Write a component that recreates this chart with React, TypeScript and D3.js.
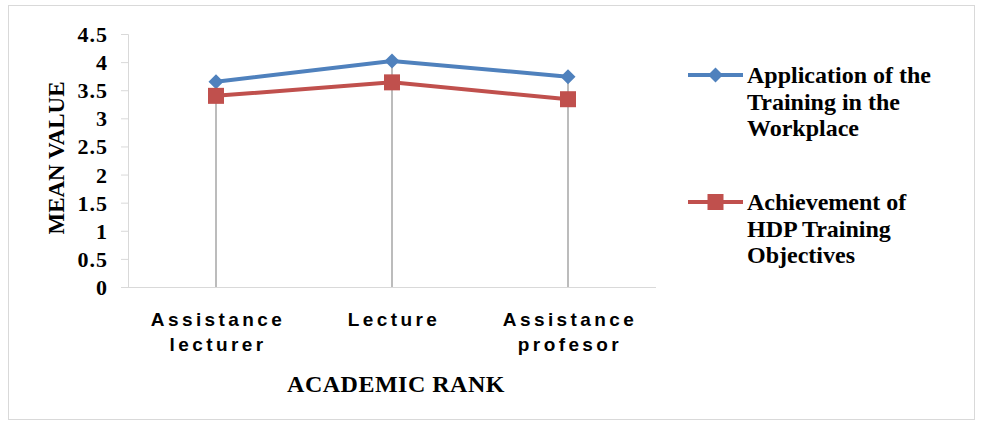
import React, { useRef, useEffect } from 'react';
import * as d3 from 'd3';

const ranks = ['Assistance lecturer', 'Lecture', 'Assistance profesor'];
const rankLines = [['Assistance', 'lecturer'], ['Lecture'], ['Assistance', 'profesor']];
const applicationValues = [3.65, 4.02, 3.74];
const achievementValues = [3.40, 3.64, 3.34];
const yTicks = [0, 0.5, 1, 1.5, 2, 2.5, 3, 3.5, 4, 4.5];

const seriesList = [
  { name: ['Application of the', 'Training in the', 'Workplace'], values: applicationValues, color: '#4f81bd', marker: 'diamond' },
  { name: ['Achievement of', 'HDP Training', 'Objectives'], values: achievementValues, color: '#c0504d', marker: 'square' },
];

const W = 984;
const H = 427;
const SERIF = '"Liberation Serif", "Times New Roman", serif';
const SANS = '"Liberation Sans", Arial, sans-serif';

const App: React.FC = () => {
  const svgRef = useRef<SVGSVGElement | null>(null);

  useEffect(() => {
    if (!svgRef.current) return;
    const svg = d3.select(svgRef.current);
    svg.selectAll('*').remove();

    const margin = { top: 34, left: 128, right: 328, bottom: 140 };
    const plotW = W - margin.left - margin.right;
    const plotH = H - margin.top - margin.bottom;

    // outer frame
    svg.append('rect')
      .attr('x', 8.5).attr('y', 5.5)
      .attr('width', 966).attr('height', 414)
      .attr('fill', 'white')
      .attr('stroke', '#d9d9d9');

    const g = svg.append('g').attr('transform', `translate(${margin.left},${margin.top})`);

    const x = d3.scaleBand<string>().domain(ranks).range([0, plotW]);
    const y = d3.scaleLinear().domain([0, 4.5]).range([plotH, 0]);
    const cx = (i: number) => (x(ranks[i]) || 0) + x.bandwidth() / 2;

    // y axis
    const yAxis = g.append('g')
      .call(d3.axisLeft(y).tickValues(yTicks).tickSize(7).tickPadding(13).tickFormat(d => `${d}`));
    yAxis.select('.domain').attr('stroke', '#d9d9d9');
    yAxis.selectAll('.tick line').attr('stroke', '#d9d9d9');
    yAxis.selectAll('.tick text')
      .attr('fill', '#000')
      .attr('font-family', SERIF)
      .attr('font-weight', 'bold')
      .attr('font-size', '22px')
      .attr('letter-spacing', '1px')
      .attr('dy', '0.34em');

    // x axis line
    g.append('line')
      .attr('x1', 0).attr('x2', plotW)
      .attr('y1', plotH + 0.5).attr('y2', plotH + 0.5)
      .attr('stroke', '#d9d9d9');

    // drop lines
    ranks.forEach((_, i) => {
      const top = Math.max(applicationValues[i], achievementValues[i]);
      g.append('line')
        .attr('x1', cx(i)).attr('x2', cx(i))
        .attr('y1', y(top)).attr('y2', plotH)
        .attr('stroke', '#a6a6a6')
        .attr('stroke-width', 1.5);
    });

    // category labels
    rankLines.forEach((lines, i) => {
      lines.forEach((t, j) => {
        g.append('text')
          .attr('x', cx(i) + 2)
          .attr('y', plotH + 39 + j * 25)
          .attr('text-anchor', 'middle')
          .attr('font-family', SANS)
          .attr('font-weight', 'bold')
          .attr('font-size', '19px')
          .attr('letter-spacing', '3.4px')
          .attr('fill', '#000')
          .text(t);
      });
    });

    // axis titles
    g.append('text')
      .attr('x', plotW / 2 + 4)
      .attr('y', plotH + 105)
      .attr('text-anchor', 'middle')
      .attr('font-family', SERIF)
      .attr('font-weight', 'bold')
      .attr('font-size', '24px')
      .attr('letter-spacing', '0.5px')
      .attr('fill', '#000')
      .text('ACADEMIC RANK');

    svg.append('text')
      .attr('transform', `translate(64,158) rotate(-90)`)
      .attr('text-anchor', 'middle')
      .attr('font-family', SERIF)
      .attr('font-weight', 'bold')
      .attr('font-size', '23px')
      .attr('fill', '#000')
      .text('MEAN VALUE');

    const line = d3.line<number>()
      .x((_, i) => cx(i))
      .y(d => y(d));

    const drawMarker = (sel: d3.Selection<SVGGElement, unknown, null, undefined>, kind: string, px: number, py: number, color: string) => {
      if (kind === 'diamond') {
        const r = 7.5;
        sel.append('path')
          .attr('d', `M${px},${py - r}L${px + r},${py}L${px},${py + r}L${px - r},${py}Z`)
          .attr('fill', color);
      } else {
        sel.append('rect')
          .attr('x', px - 8).attr('y', py - 8)
          .attr('width', 16).attr('height', 16)
          .attr('fill', color);
      }
    };

    seriesList.forEach(s => {
      g.append('path')
        .datum(s.values)
        .attr('fill', 'none')
        .attr('stroke', s.color)
        .attr('stroke-width', 4)
        .attr('d', line);
      s.values.forEach((v, i) => drawMarker(g, s.marker, cx(i), y(v), s.color));
    });

    // legend
    const legend = svg.append('g').attr('transform', 'translate(688,0)');
    const legendY = [75, 202];
    seriesList.forEach((s, k) => {
      const ly = legendY[k];
      legend.append('line')
        .attr('x1', 0).attr('x2', 55)
        .attr('y1', ly).attr('y2', ly)
        .attr('stroke', s.color)
        .attr('stroke-width', 4);
      drawMarker(legend, s.marker, 27.5, ly, s.color);
      s.name.forEach((t, j) => {
        legend.append('text')
          .attr('x', 59)
          .attr('y', ly + 8 + j * 26.5)
          .attr('font-family', SERIF)
          .attr('font-weight', 'bold')
          .attr('font-size', '24px')
          .attr('fill', '#000')
          .text(t);
      });
    });
  }, []);

  return (
    <svg
      ref={svgRef}
      width={W}
      height={H}
      style={{ position: 'absolute', left: 0, top: 0, background: 'white' }}
    />
  );
};

export default App;
